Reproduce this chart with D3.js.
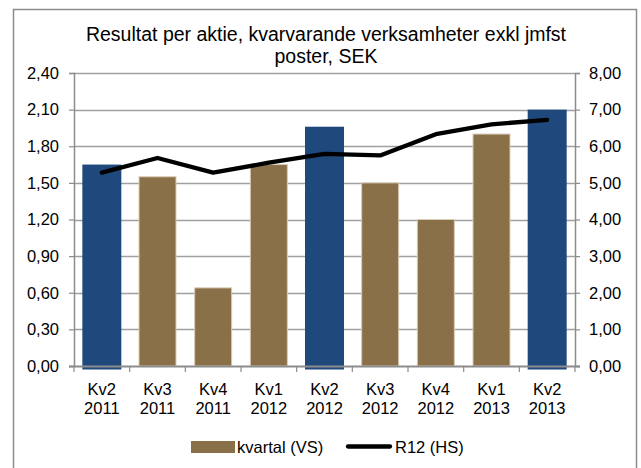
<!DOCTYPE html>
<html><head><meta charset="utf-8">
<script src="https://cdn.jsdelivr.net/npm/d3@7"></script>
<style>body{margin:0;background:#fff}svg{display:block;font-family:"Liberation Sans",Arial,sans-serif}</style>
</head><body><svg id="c" width="641" height="468"></svg>
<script>
const categories = [["Kv2","2011"],["Kv3","2011"],["Kv4","2011"],["Kv1","2012"],["Kv2","2012"],["Kv3","2012"],["Kv4","2012"],["Kv1","2013"],["Kv2","2013"]];
const kvartal = [1.65, 1.55, 0.64, 1.65, 1.96, 1.50, 1.20, 1.90, 2.10];
const highlighted = [true, false, false, false, true, false, false, false, true];
const r12 = [5.28, 5.68, 5.28, 5.55, 5.79, 5.75, 6.33, 6.60, 6.72];
const leftTicks = [0, 0.3, 0.6, 0.9, 1.2, 1.5, 1.8, 2.1, 2.4];
const rightTicks = [0, 1, 2, 3, 4, 5, 6, 7, 8];
const title = ["Resultat per aktie, kvarvarande verksamheter exkl jmfst", "poster, SEK"];
const legendLabels = ["kvartal (VS)", "R12 (HS)"];

const svg = d3.select("#c");
const L = 74, R = 575, T = 73, B = 366;
const FS = 16.5;
const fmt = v => d3.format(".2f")(v).replace(".", ",");

svg.append("rect").attr("x",13.5).attr("y",9.5).attr("width",623).attr("height",470)
  .attr("fill","#fff").attr("stroke","#8c8c8c").attr("stroke-width",1.5);

const x = d3.scaleBand().domain(d3.range(categories.length)).range([L,R]).padding(0);
const yL = d3.scaleLinear().domain([0,2.4]).range([B,T]);
const yR = d3.scaleLinear().domain([0,8]).range([B,T]);

// gridlines
svg.append("g").selectAll("line").data(leftTicks.slice(1)).join("line")
  .attr("x1",L).attr("x2",R).attr("y1",d=>Math.round(yL(d))+0.5).attr("y2",d=>Math.round(yL(d))+0.5)
  .attr("stroke","#a0a0a0").attr("stroke-width",1.3);

// bars
const bw = x.bandwidth();
svg.append("g").selectAll("rect").data(kvartal).join("rect")
  .attr("x",(d,i)=>x(i)+bw/2-(highlighted[i]?19.5:18.5))
  .attr("width",(d,i)=>highlighted[i]?39:37)
  .attr("y",d=>yL(d))
  .attr("height",(d,i)=>B-yL(d)+(highlighted[i]?3.5:0))
  .attr("fill",(d,i)=>highlighted[i]?"#1f497d":"#8a7049")
  .attr("stroke",(d,i)=>highlighted[i]?"none":"#d8ccb6")
  .attr("stroke-width",1);

// axes
const gL = svg.append("g").attr("transform",`translate(${L},0)`)
  .call(d3.axisLeft(yL).tickValues(leftTicks).tickFormat(fmt).tickSize(5).tickPadding(10));
const gR = svg.append("g").attr("transform",`translate(${R},0)`)
  .call(d3.axisRight(yR).tickValues(rightTicks).tickFormat(fmt).tickSize(5).tickPadding(9));
[gL,gR].forEach(g=>{
  g.select(".domain").attr("stroke","#8c8c8c").attr("stroke-width",1.5);
  g.selectAll(".tick line").attr("stroke","#8c8c8c").attr("stroke-width",1.2);
  g.selectAll("text").attr("font-size",FS).attr("fill","#000").attr("font-family","Liberation Sans, Arial, sans-serif");
});

// bottom axis
const gB = svg.append("g");
gB.append("line").attr("x1",L-5).attr("x2",R+5).attr("y1",B+0.5).attr("y2",B+0.5)
  .attr("stroke","#8c8c8c").attr("stroke-width",2);
gB.selectAll("line.t").data(d3.range(categories.length+1)).join("line").attr("class","t")
  .attr("x1",i=>L+i*bw).attr("x2",i=>L+i*bw).attr("y1",B).attr("y2",B+6)
  .attr("stroke","#8c8c8c").attr("stroke-width",1.2);
const lab = gB.selectAll("text").data(categories).join("text")
  .attr("x",(d,i)=>x(i)+bw/2).attr("text-anchor","middle").attr("font-size",FS).attr("fill","#000");
lab.append("tspan").attr("x",(d,i)=>x(i)+bw/2).attr("y",B+28.5).text(d=>d[0]);
lab.append("tspan").attr("x",(d,i)=>x(i)+bw/2).attr("y",B+48).text(d=>d[1]);

// line
svg.append("path").datum(r12)
  .attr("d",d3.line().x((d,i)=>x(i)+bw/2).y(d=>yR(d)))
  .attr("fill","none").attr("stroke","#000").attr("stroke-width",4.3).attr("stroke-linecap","round").attr("stroke-linejoin","round");

// title
svg.append("g").selectAll("text").data(title).join("text")
  .attr("x",326).attr("y",(d,i)=>41+i*22).attr("text-anchor","middle")
  .attr("font-size",19.5).attr("fill","#000").text(d=>d);

// legend
const lg = svg.append("g");
lg.append("rect").attr("x",191).attr("y",441).attr("width",44).attr("height",12).attr("fill","#8a7049");
lg.append("text").attr("x",237).attr("y",452.5).attr("font-size",FS).text(legendLabels[0]);
lg.append("line").attr("x1",348).attr("x2",390).attr("y1",446.5).attr("y2",446.5)
  .attr("stroke","#000").attr("stroke-width",4.3).attr("stroke-linecap","round");
lg.append("text").attr("x",395).attr("y",452.5).attr("font-size",FS).text(legendLabels[1]);
</script></body></html>
